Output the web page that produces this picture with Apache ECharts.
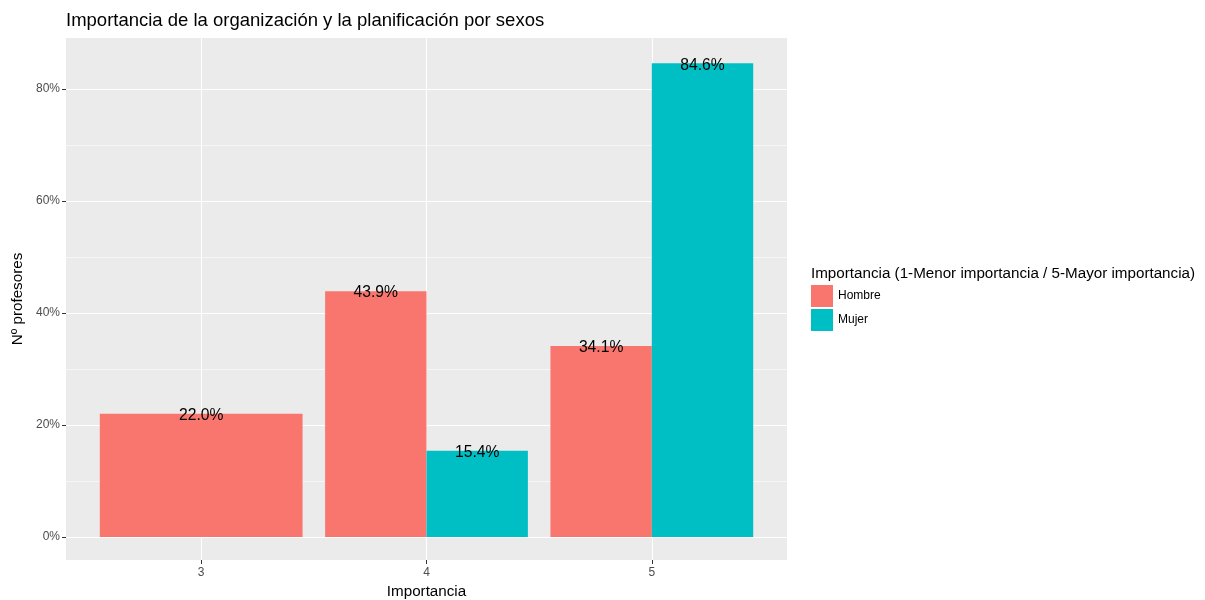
<!DOCTYPE html>
<html>
<head>
<meta charset="utf-8">
<script src="https://cdn.jsdelivr.net/npm/echarts@6/dist/echarts.min.js"></script>
<style>
html,body{margin:0;padding:0;background:#fff;}
#chart{width:1205px;height:600px;}
</style>
</head>
<body>
<div id="chart"></div>
<script>
// Data
const categories = [3, 4, 5];
const hombre = [22.0, 43.9, 34.1];
const mujer = [null, 15.4, 84.6];
const seriesNames = ['Hombre', 'Mujer'];
const yMajorTicks = [0, 20, 40, 60, 80];
const yMinorTicks = [10, 30, 50, 70];

const colors = ['#F8766D', '#00BFC4'];
const FONT = 'Liberation Sans, Arial, sans-serif';

function buildData(idx) {
  const own = idx === 0 ? hombre : mujer;
  const other = idx === 0 ? mujer : hombre;
  return categories.map((c, i) => {
    const v = own[i];
    if (v == null) return null;
    const shared = other[i] != null;
    return [c, v, shared ? 1 : 0];
  }).filter(d => d);
}

function makeRender(idx) {
  return function (params, api) {
    const x = api.value(0), v = api.value(1), shared = api.value(2);
    const totalW = api.size([0.9, 0])[0];
    let x0Val, w;
    const c = api.coord([x, 0]);
    if (shared) {
      w = totalW / 2;
      x0Val = idx === 0 ? c[0] - w : c[0];
    } else {
      w = totalW;
      x0Val = c[0] - w / 2;
    }
    const base = c[1];
    const top = api.coord([x, v])[1];
    return {
      type: 'group',
      children: [
        { type: 'rect', shape: { x: x0Val, y: top, width: w, height: base - top },
          style: { fill: colors[idx] } },
        { type: 'text', z2: 10,
          style: { text: v.toFixed(1) + '%', x: x0Val + w / 2, y: top + 2,
                   align: 'center', verticalAlign: 'middle',
                   fontSize: 15.7, fontFamily: FONT, fill: '#000' } }
      ]
    };
  };
}

const chart = echarts.init(document.getElementById('chart'), null, { renderer: 'canvas' });
const yMin = -4.107, yMax = 89.107;
chart.setOption({
  animation: false,
  backgroundColor: '#fff',
  title: [
    { text: 'Importancia de la organización y la planificación por sexos',
      left: 66, top: 11, padding: 0,
      textStyle: { fontFamily: FONT, fontSize: 18.5, fontWeight: 'normal', color: '#000' } },
    { text: 'Importancia (1-Menor importancia / 5-Mayor importancia)',
      left: 811, top: 266, padding: 0,
      textStyle: { fontFamily: FONT, fontSize: 15.2, fontWeight: 'normal', color: '#000' } }
  ],
  legend: {
    orient: 'vertical', left: 811, top: 285, padding: 0, itemWidth: 22, itemHeight: 22, itemGap: 2,
    icon: 'rect', data: seriesNames,
    textStyle: { fontFamily: FONT, fontSize: 12, color: '#000' }
  },
  grid: { left: 66, top: 38, width: 721, height: 522, show: true, outerBoundsMode: 'none',
          backgroundColor: '#EBEBEB', borderWidth: 0, containLabel: false },
  xAxis: {
    type: 'value', min: 2.4, max: 5.6,
    name: 'Importancia', nameLocation: 'middle', nameGap: 23,
    nameTextStyle: { fontFamily: FONT, fontSize: 15.2, color: '#000' },
    axisLine: { show: false, onZero: false },
    axisTick: { show: true, length: 4, lineStyle: { color: '#333', width: 1 }, customValues: categories },
    axisLabel: { customValues: categories, margin: 7, fontFamily: FONT, fontSize: 12, color: '#4D4D4D' },
    splitLine: { show: true, lineStyle: { color: '#fff', width: 1.1 } }
  },
  yAxis: [
    {
      type: 'value', min: yMin, max: yMax,
      name: 'Nº profesores', nameLocation: 'middle', nameGap: 38, nameRotate: 90,
      nameTextStyle: { fontFamily: FONT, fontSize: 15.2, color: '#000' },
      axisLine: { show: false, onZero: false },
      axisTick: { show: true, length: 4, lineStyle: { color: '#333', width: 1 }, customValues: yMajorTicks },
      axisLabel: { customValues: yMajorTicks, margin: 6, fontFamily: FONT, fontSize: 12, color: '#4D4D4D',
                   formatter: v => v + '%' },
      splitLine: { show: true, lineStyle: { color: '#fff', width: 1.1 } },
      z: 2
    },
    {
      type: 'value', min: yMin, max: yMax, position: 'left',
      axisLine: { show: false, onZero: false },
      axisTick: { show: false, customValues: yMinorTicks },
      axisLabel: { show: false, customValues: yMinorTicks },
      splitLine: { show: true, lineStyle: { color: '#fff', width: 0.55 } },
      z: 1
    }
  ],
  series: [0, 1].map(idx => ({
    name: seriesNames[idx], type: 'custom', color: colors[idx],
    xAxisIndex: 0, yAxisIndex: 0,
    encode: { x: 0, y: 1 },
    data: buildData(idx),
    renderItem: makeRender(idx)
  }))
});
</script>
</body>
</html>
